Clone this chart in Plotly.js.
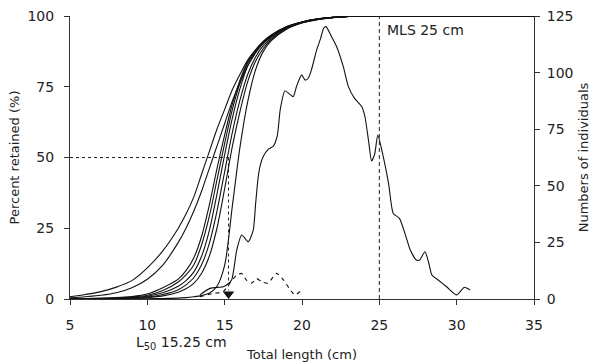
<!DOCTYPE html>
<html>
<head>
<meta charset="utf-8">
<script src="https://cdn.plot.ly/plotly-3.0.1.min.js"></script>
<style>html,body{margin:0;padding:0;background:#fff;}#chart{width:594px;height:363px;}</style>
</head>
<body>
<div id="chart"></div>
<script>
// Selectivity curves (percent retained) sampled on a common length grid
var selX = [5,6,7,8,9,10,11,12,12.5,13,13.5,14,14.5,15,15.5,16,16.5,17,17.5,18,19,20,21,22,23,24,35];
var selA = [0.8,1.6,2.6,4.2,6.5,11,17,25,30,36,44,52,60,67,74,79.5,84.5,88,91,93.2,96.3,97.9,98.9,99.5,99.85,100,100];
var selB = [0.4,0.8,1.3,2.2,4,7,12,20,25,31,38,46,54,62,70,76.5,82.5,87,90.5,92.8,96,97.8,98.9,99.5,99.85,100,100];
var selC = [0.1,0.2,0.3,0.5,0.9,1.8,4,7,10,14.5,22,33,46,58,69,77.5,84,88,91,93.2,96.2,97.9,99,99.5,99.85,100,100];
var selD = [0.05,0.1,0.2,0.4,0.7,1.3,3,6,8.5,12,19,29,42,55,67,76.5,83.5,87.5,90.7,93,96.1,97.9,98.9,99.5,99.85,100,100];
var selE = [0,0.1,0.15,0.3,0.5,1,2.2,4.5,6.5,9.5,15,24,37,51,64,74.5,82.5,87,90.3,92.6,95.9,97.8,98.9,99.5,99.85,100,100];
var selF = [0,0.05,0.1,0.2,0.35,0.7,1.6,3.3,5,7.5,12,19.5,31,45,59,70.5,79.5,85.5,89.5,92.2,95.7,97.7,98.8,99.5,99.85,100,100];
var selG = [0,0,0.05,0.1,0.25,0.5,1.1,2.4,3.6,5.5,9,15,25,39,54,66.5,77,84,88.5,91.7,95.5,97.6,98.8,99.4,99.85,100,100];
var selH = [0,0,0,0,0.05,0.1,0.2,0.3,0.5,0.8,1.2,2,4.5,12,33,54,70,81,87.5,91.2,95.3,97.5,98.7,99.4,99.85,100,100];

// Length-frequency (numbers of individuals), solid
var lfX = [13.4,14.05,14.9,15.13,15.45,15.78,16.1,16.53,16.85,17.0,17.17,17.3,17.5,17.8,18.15,18.4,18.6,18.9,19.2,19.43,19.65,19.98,20.2,20.4,20.6,20.95,21.2,21.4,21.55,21.9,22.24,22.67,23.0,23.4,23.86,24.07,24.3,24.5,24.7,24.9,25.25,25.6,25.9,26.3,26.7,27.0,27.4,27.6,27.95,28.2,28.4,28.8,29.35,30.0,30.5,30.86];
var lfY = [1.8,4.7,5.4,6.2,8.4,21.6,28.3,25.3,30.5,42,54,59,63,66,67.5,72,84,92,90.5,89.4,94,99,96.7,97.5,101,110,115,119.6,120.3,116,111.4,102.6,93.8,88.6,85,80.5,70,61,64,72.4,63,51,37.8,35.6,28,21.6,17.2,17.2,20.9,15.8,10.6,8.4,5.4,1.8,5.2,4];

// Second length-frequency (dashed)
var dX = [13.4,14.3,14.9,15.34,15.78,16.1,16.4,16.74,17.07,17.4,17.8,18.36,18.8,19.33,19.55,19.87,20.1];
var dY = [1,2.5,3.2,7,10.6,11.3,8.4,7,9,7.6,7,11.3,8.4,3.2,1.8,3.2,4];

var L50 = 15.25;
var MLS = 25;
var xTicks = [5,10,15,20,25,30,35];
var yTicks = [0,25,50,75,100];
var y2Ticks = [0,25,50,75,100,125];

var FONT = 'DejaVu Sans, Verdana, sans-serif';
var INK = '#222';

var sels = [selA,selB,selC,selD,selE,selF,selG,selH];
var traces = sels.map(function(v){
  return {x: selX, y: v, type:'scatter', mode:'lines', cliponaxis:false,
    line:{color:'#111', width:1.1, shape:'spline', smoothing:0.8}, hoverinfo:'skip', showlegend:false};
});
traces.push({x: lfX, y: lfY, yaxis:'y2', type:'scatter', mode:'lines',
  line:{color:'#111', width:1.1, shape:'spline', smoothing:0.6}, showlegend:false});
traces.push({x: dX, y: dY, yaxis:'y2', type:'scatter', mode:'lines',
  line:{color:'#111', width:1.1, dash:'4px,4px', shape:'spline', smoothing:0.6}, showlegend:false});
traces.push({x:[L50], y:[1.8], type:'scatter', mode:'markers', cliponaxis:false,
  marker:{symbol:'triangle-down', size:10, color:'#111'}, showlegend:false});

var layout = {
  width:594, height:363,
  margin:{l:70, r:60, t:16, b:64},
  paper_bgcolor:'#fff', plot_bgcolor:'#fff',
  font:{family:FONT, size:14, color:INK},
  showlegend:false,
  xaxis:{range:[5,35], tickvals:xTicks, showgrid:false, zeroline:false,
    showline:true, linecolor:'#333', linewidth:1, ticks:'outside', ticklen:5, tickcolor:'#333',
    ticklabelstandoff:8,
    tickfont:{size:14}, title:{text:'Total length (cm)', font:{size:13}, standoff:18}},
  yaxis:{range:[0,100], tickvals:yTicks, showgrid:false, zeroline:false,
    showline:true, linecolor:'#333', linewidth:1, ticks:'outside', ticklen:5, tickcolor:'#333',
    ticklabelstandoff:7,
    tickfont:{size:14}, title:{text:'Percent retained (%)', font:{size:13}, standoff:4}},
  yaxis2:{range:[0,125], tickvals:y2Ticks, overlaying:'y', side:'right', showgrid:false, zeroline:false,
    showline:true, linecolor:'#333', linewidth:1, ticks:'outside', ticklen:5, tickcolor:'#333',
    ticklabelstandoff:4,
    tickfont:{size:14}, title:{text:'Numbers of individuals', font:{size:13}, standoff:6}},
  shapes:[
    {type:'line', xref:'x', yref:'y', x0:5, x1:L50, y0:50, y1:50, line:{color:'#222', width:1, dash:'dot'}},
    {type:'line', xref:'x', yref:'y', x0:L50, x1:L50, y0:50, y1:3, line:{color:'#222', width:1, dash:'dot'}},
    {type:'line', xref:'x', yref:'y', x0:MLS, x1:MLS, y0:0, y1:100, line:{color:'#222', width:1, dash:'4px,3px'}}
  ],
  annotations:[
    {xref:'x', yref:'y', x:25.35, y:95, text:'MLS 25 cm', showarrow:false, xanchor:'left', yanchor:'middle', font:{size:14, color:INK}},
    {xref:'x', yref:'paper', x:12.2, y:-0.155, text:'L<sub>50</sub> 15.25 cm', showarrow:false, xanchor:'center', yanchor:'middle', font:{size:14, color:INK}}
  ]
};

Plotly.newPlot('chart', traces, layout, {staticPlot:true, displayModeBar:false});
</script>
</body>
</html>
